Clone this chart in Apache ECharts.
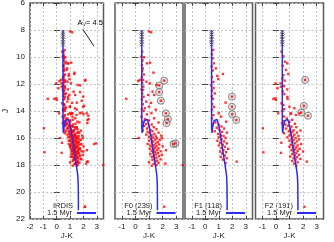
<!DOCTYPE html>
<html><head><meta charset="utf-8">
<script src="https://cdn.jsdelivr.net/npm/echarts@6/dist/echarts.min.js"></script>
<style>html,body{margin:0;padding:0;background:#fff}#c{width:334px;height:242px}</style>
</head><body><div id="c"></div>
<script>
// ---------------- DATA ----------------
const panelTitles = ['IRDIS', 'F0 (239)', 'F1 (118)', 'F2 (191)'];
const isoName = '1.5 Myr';
const xTicksP1 = [-2, -1, 0, 1, 2, 3];
const xTicksF = [-1, 0, 1, 2, 3];
const yTicks = [6, 8, 10, 12, 14, 16, 18, 20, 22];

// 1.5 Myr isochrone (J-K, J), from faint end to bright end
const isoJK = [1.62, 1.62, 1.61, 1.58, 1.52, 1.45, 1.38, 1.28, 1.18, 1.08, 1.0, 0.93, 0.86, 0.78, 0.66, 0.57, 0.52, 0.5, 0.47, 0.47, 0.47];
const isoJ  = [21.35, 20.5, 19.5, 18.8, 18.35, 17.9, 17.45, 16.8, 16.1, 15.5, 15.1, 14.8, 14.62, 14.6, 14.72, 15.05, 15.4, 15.62, 15.2, 12.0, 8.0];

// saturated / cross-marked bright stars on the isochrone
const crossJK = [0.47, 0.47, 0.47, 0.47, 0.47, 0.47];
const crossJ  = [8.17, 8.32, 8.5, 8.69, 8.91, 9.06];

// F0 field sources
const f0 = [
[0.99,8.1],[1.16,8.17],
[0.5,9.6],[0.44,9.98],[0.64,10.02],[0.52,10.25],[1.08,10.42],[0.86,10.47],[0.48,10.6],[0.55,10.85],[1.33,11.16],[0.5,11.05],[0.62,11.3],[0.47,11.5],[0.56,11.7],[0.32,11.7],[0.81,11.83],[0.2,11.78],[1.06,11.95],[0.5,11.95],[1.56,12.07],[0.58,12.2],[0.45,12.4],[0.56,12.44],[1.26,12.57],[0.5,12.7],[0.94,12.81],[1.38,12.81],[0.6,12.95],[-0.67,13.1],[0.48,13.15],[0.8,13.3],[1.15,13.4],[0.55,13.5],[0.99,13.68],[0.69,13.8],[0.47,13.85],[1.5,13.9],[0.6,14.0],[1.18,14.17],[0.85,14.25],[0.44,14.42],[1.38,14.54],[0.7,14.6],[1.0,14.7],[0.52,14.8],[1.7,14.85],[0.8,14.95],[1.2,15.0],
[0.65,15.1],[1.0,15.15],[1.35,15.2],[0.85,15.3],[1.55,15.35],[1.1,15.4],[0.55,15.45],[1.25,15.5],[0.9,15.55],[1.7,15.6],[1.05,15.65],[1.4,15.7],[0.8,15.75],[1.2,15.8],[1.9,15.82],[1.5,15.88],[1.0,15.92],[1.3,15.97],[0.25,16.0],
[1.6,16.02],[1.15,16.08],[1.45,16.12],[1.8,16.15],[1.0,16.2],[1.3,16.25],[1.65,16.3],[1.2,16.35],[1.5,16.4],[0.9,16.45],[1.75,16.48],[1.35,16.52],[1.1,16.57],[1.55,16.6],[2.0,16.62],[1.25,16.68],[1.45,16.72],[1.7,16.76],[1.05,16.8],[1.35,16.85],[1.6,16.9],[1.2,16.95],[1.85,16.98],
[1.45,17.02],[1.3,17.08],[1.65,17.12],[1.1,17.18],[1.5,17.22],[1.95,17.25],[1.35,17.3],[1.75,17.35],[1.2,17.4],[1.55,17.45],[1.4,17.52],[1.85,17.58],[1.25,17.62],[1.6,17.68],[1.45,17.75],[1.0,17.8],[1.7,17.85],[1.35,17.92],[1.55,18.0],[1.2,18.05],[2.2,17.9],[3.48,18.0],[2.12,21.09],[1.95,16.0],[2.25,16.9]
];
const f0Circled = [[2.12,11.75],[1.75,12.1],[1.75,12.6],[1.87,13.24],[2.24,14.17],[2.39,14.6],[2.29,14.9],[2.8,16.45],[2.95,16.4]];

// F1 field sources
const f1 = [
[0.59,9.48],[0.5,9.8],[0.55,10.1],[0.64,10.47],[0.48,10.7],[0.79,10.84],[0.55,11.0],[1.31,11.26],[0.89,11.4],[0.5,11.5],[0.96,11.63],[0.6,11.85],[0.45,12.1],[0.62,12.3],[0.5,12.5],[0.7,12.7],[0.48,12.9],[0.58,13.1],[1.51,13.38],[0.52,13.5],[0.65,13.7],[0.5,13.9],[0.99,14.17],[0.6,14.3],[1.18,14.42],[0.5,14.55],[1.55,14.79],[0.75,14.85],[0.55,15.0],
[1.0,15.05],[1.2,15.15],[0.85,15.25],[1.4,15.3],[1.05,15.4],[0.7,15.5],[1.25,15.55],[1.6,15.6],[0.95,15.7],[1.15,15.8],[1.35,15.85],[1.0,15.95],[1.5,16.0],[1.2,16.1],[0.9,16.2],[1.4,16.25],[1.1,16.35],[1.6,16.4],[1.3,16.5],[1.0,16.55],[1.45,16.65],[1.2,16.75],[1.7,16.8],[1.35,16.9],[1.1,17.0],[1.55,17.05],[1.25,17.15],[1.45,17.3],[1.15,17.4],[1.6,17.5],[1.3,17.6],[2.33,17.75],[1.5,17.85]
];
const f1Circled = [[1.98,12.94],[1.98,13.68],[2.0,14.24],[2.3,14.67]];

// F2 field sources
const f2 = [
[0.41,9.6],[0.55,9.95],[0.67,10.35],[0.84,10.47],[0.5,10.65],[0.74,10.96],[0.91,11.26],[0.55,11.35],[0.49,11.58],[0.65,11.75],[-0.03,11.95],[0.34,11.95],[0.59,12.15],[0.37,12.2],[0.12,12.32],[0.84,12.4],[0.5,12.55],[0.62,12.75],[0.84,12.96],[-0.03,13.06],[-0.18,13.1],[0.0,13.18],[0.86,13.1],[0.41,13.43],[0.55,13.55],[0.99,13.68],[1.36,13.8],[0.61,13.86],[0.48,14.0],[1.11,14.17],[1.73,14.17],[0.17,14.17],[1.08,14.22],[1.48,14.3],[0.6,14.4],[0.8,14.55],[1.2,14.65],[0.55,14.75],[1.0,14.8],[0.45,14.9],[1.4,14.95],[0.7,15.0],[-0.96,15.28],
[0.9,15.1],[1.15,15.15],[1.5,15.2],[0.75,15.3],[1.05,15.35],[1.3,15.42],[1.8,15.45],[0.95,15.5],[1.2,15.55],[1.55,15.6],[0.6,15.65],[1.1,15.7],[1.35,15.75],[1.0,15.8],[1.65,15.85],[1.25,15.9],[0.85,15.95],[1.45,16.0],[1.15,16.05],[1.7,16.1],[1.3,16.15],[1.0,16.2],[1.55,16.25],[1.2,16.3],[0.4,16.35],[1.4,16.4],[1.85,16.45],[1.1,16.5],[1.6,16.55],[1.3,16.6],[1.0,16.65],[1.5,16.7],[1.25,16.75],[1.75,16.8],[1.4,16.85],[1.15,16.9],[1.6,16.95],[2.0,17.0],[1.3,17.02],[-0.92,17.06],[0.37,17.1],[1.5,17.12],[1.2,17.2],[1.7,17.25],[1.4,17.3],[1.05,17.38],[1.55,17.42],[1.3,17.5],[1.8,17.55],[1.45,17.6],[2.27,17.75],[1.2,17.7],[1.6,17.8],[1.35,17.9],[1.5,18.05],[2.1,21.1]
];
const f2Circled = [[2.15,11.7],[2.05,13.62],[1.86,14.12],[2.36,14.35]];

// reddening vector annotation (A_V = 4.5)
const avLabel = '4.5';
const avArrow = [[1.96, 7.95], [2.78, 9.19]];

// ---------------- LAYOUT ----------------
const fontFam = 'Liberation Sans, Arial, sans-serif';
const fs = 7.5;      // key / names
const fsTick = 8;    // tick labels
const lefts  = [30, 115, 185, 255.5];
const widths = [73.5, 68, 67.5, 68];
const gTop = 3, gHeight = 216;
const xMins = [-2, -1.5, -1.5, -1.5];
const xMax = 3.5;

const fieldRed = [f0.concat(f0Circled), f1.concat(f1Circled), f2.concat(f2Circled)];
const allRed = fieldRed[0].concat(fieldRed[1], fieldRed[2]);
const panelRed = [allRed, fieldRed[0], fieldRed[1], fieldRed[2]];
const panelCirc = [[], f0Circled, f1Circled, f2Circled];
const isoData = isoJK.map((v, i) => [v, isoJ[i]]);
const crossData = crossJK.map((v, i) => [v, crossJ[i]]);

const grids = [], xAxes = [], yAxes = [], series = [], legends = [], graphics = [];
const tickCol = '#444';
for (let i = 0; i < 4; i++) {
  const xt = i === 0 ? xTicksP1 : xTicksF;
  grids.push({left: lefts[i], top: gTop, width: widths[i], height: gHeight, show: true,
    outerBoundsMode: 'none', containLabel: false,
    borderColor: '#5a5a5a', borderWidth: 1.5, backgroundColor: 'transparent'});
  xAxes.push({type: 'value', gridIndex: i, position: 'bottom', min: xMins[i], max: xMax,
    axisLine: {show: false},
    axisTick: {inside: true, length: 3, customValues: xt, lineStyle: {color: tickCol}},
    axisLabel: {customValues: xt, fontSize: fsTick, color: '#222', margin: 3.5, fontFamily: fontFam},
    splitLine: {show: true, lineStyle: {type: [2, 2], color: '#c4c4c4', width: 1}},
    name: 'J-K', nameLocation: 'middle', nameGap: 13, nameMoveOverlap: false,
    nameTextStyle: {fontSize: fs + 0.5, color: '#222', fontFamily: fontFam}});
  xAxes.push({type: 'value', gridIndex: i, position: 'top', min: xMins[i], max: xMax,
    axisLine: {show: false},
    axisTick: {inside: true, length: 3, customValues: xt, lineStyle: {color: tickCol}},
    axisLabel: {show: false}, splitLine: {show: false}});
  yAxes.push({type: 'value', gridIndex: i, position: 'left', inverse: true, min: 6, max: 22, interval: 2,
    axisLine: {show: false},
    axisTick: {inside: true, length: 3, lineStyle: {color: tickCol}},
    axisLabel: {show: i === 0, fontSize: fsTick, color: '#222', margin: 5, fontFamily: fontFam,
      customValues: yTicks},
    splitLine: {show: true, lineStyle: {type: [2, 2], color: '#c4c4c4', width: 1}},
    name: i === 0 ? 'J' : '', nameLocation: 'middle', nameGap: 20, nameRotate: 90, nameMoveOverlap: false,
    nameTextStyle: {fontSize: 9, color: '#222', fontFamily: fontFam}});
  yAxes.push({type: 'value', gridIndex: i, position: 'right', inverse: true, min: 6, max: 22, interval: 2,
    axisLine: {show: false},
    axisTick: {inside: true, length: 3, lineStyle: {color: tickCol}},
    axisLabel: {show: false}, splitLine: {show: false}});

  if (panelCirc[i].length) {
    series.push({type: 'scatter', xAxisIndex: 2 * i, yAxisIndex: 2 * i, data: panelCirc[i],
      symbol: 'circle', symbolSize: 7, silent: true, z: 2,
      itemStyle: {color: 'rgba(190,190,190,0.45)', borderColor: '#6a6a6a', borderWidth: 1}});
  }
  series.push({type: 'scatter', xAxisIndex: 2 * i, yAxisIndex: 2 * i, data: panelRed[i],
    symbol: 'rect', symbolSize: 2.4, silent: true, z: 3, itemStyle: {color: '#ff0000'}});
  series.push({type: 'line', name: isoName, xAxisIndex: 2 * i, yAxisIndex: 2 * i, data: isoData,
    symbol: 'none', silent: true, z: 4, lineStyle: {color: '#2b2bf2', width: 1.5}, color: '#2b2bf2'});
  const cr = {type: 'scatter', xAxisIndex: 2 * i, yAxisIndex: 2 * i, data: crossData,
    symbol: 'path://M0,0L10,10M10,0L0,10', symbolSize: 4, silent: true, z: 5,
    itemStyle: {color: 'none', borderColor: '#555', borderWidth: 1}};
  if (i === 0) {
    cr.markLine = {silent: true, symbol: ['none', 'arrow'], symbolSize: [0, 6],
      label: {show: false}, lineStyle: {color: '#222', width: 1, type: 'solid'},
      data: [[{coord: avArrow[0]}, {coord: avArrow[1]}]]};
  }
  series.push(cr);

  const pr = lefts[i] + widths[i];
  legends.push({data: [isoName], right: 334 - (pr - 7.5), top: 209, align: 'right', icon: 'rect',
    itemWidth: 19, itemHeight: 2, padding: 0, selectedMode: false,
    textStyle: {fontSize: fs, color: '#222', fontFamily: fontFam}});
  graphics.push({type: 'text', x: pr - 30.5, y: 205.5, silent: true,
    style: {text: panelTitles[i], align: 'right', verticalAlign: 'middle',
      font: fs + 'px ' + fontFam, fill: '#222'}});
}
graphics.push({type: 'text', x: 77.5, y: 23, silent: true,
  style: {text: '{a|A}{s|V}{a|= ' + avLabel + '}', verticalAlign: 'middle',
    rich: {a: {fontSize: fs, fontFamily: fontFam, color: '#222'},
           s: {fontSize: 5.2, fontFamily: fontFam, color: '#222', padding: [4, 0, 0, 0]}}}});

const chart = echarts.init(document.getElementById('c'), null, {renderer: 'canvas'});
chart.setOption({animation: false, backgroundColor: '#fff', grid: grids, xAxis: xAxes, yAxis: yAxes,
  series: series, legend: legends, graphic: graphics});
</script></body></html>
